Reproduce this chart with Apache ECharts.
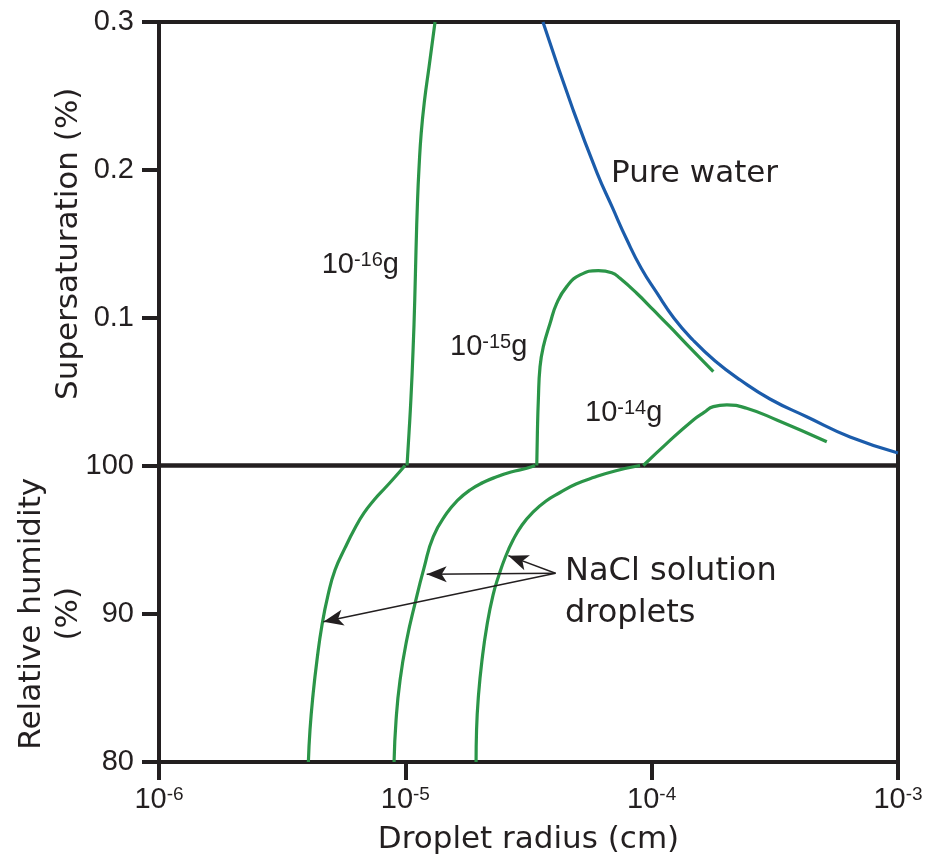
<!DOCTYPE html>
<html>
<head>
<meta charset="utf-8">
<script src="https://cdn.jsdelivr.net/npm/echarts@6/dist/echarts.min.js"></script>
<style>
  html, body { margin: 0; padding: 0; background: #fff; }
  #chart { width: 925px; height: 863px; }
</style>
</head>
<body>
<div id="chart"></div>
<script>
// droplet radius (cm) against supersaturation (%) above and relative humidity (%) below
const pureR = [3.62e-5, 4.8e-5, 6.0e-5, 6.91e-5, 7.94e-5, 9.06e-5, 1.05e-4, 1.23e-4, 1.47e-4, 1.81e-4, 2.29e-4, 3.02e-4, 4.28e-4, 6.39e-4, 1.0e-3];
const pureS = [0.3, 0.2405, 0.198, 0.1749, 0.1525, 0.1336, 0.1167, 0.0998, 0.0849, 0.0707, 0.0578, 0.045, 0.0328, 0.0193, 0.0085];

// 10^-16 g NaCl
const r16Up = [1.016e-5, 1.035e-5, 1.053e-5, 1.075e-5, 1.092e-5, 1.105e-5, 1.121e-5, 1.137e-5, 1.16e-5, 1.197e-5, 1.248e-5, 1.32e-5];
const s16Up = [0, 0.022, 0.0443, 0.0781, 0.112, 0.1458, 0.1796, 0.2019, 0.2249, 0.2472, 0.2696, 0.3];
const r16Low = [4.04e-6, 4.102e-6, 4.219e-6, 4.379e-6, 4.589e-6, 4.854e-6, 5.183e-6, 5.69e-6, 6.249e-6, 6.797e-6, 7.463e-6, 8.272e-6, 9.083e-6, 9.97e-6];
const rh16Low = [80, 82.16, 84.52, 86.88, 89.24, 91.26, 92.95, 94.44, 95.78, 96.8, 97.67, 98.48, 99.22, 100];

// 10^-15 g NaCl
const r15Up = [3.416e-5, 3.436e-5, 3.467e-5, 3.522e-5, 3.632e-5, 3.87e-5, 4.117e-5, 4.52e-5, 5.12e-5, 6.076e-5, 6.887e-5, 7.44e-5, 8.7e-5, 1.016e-4, 1.188e-4, 1.388e-4, 1.78e-4];
const s15Up = [0, 0.022, 0.0443, 0.0668, 0.0804, 0.0962, 0.1097, 0.121, 0.1289, 0.1318, 0.1304, 0.1266, 0.1165, 0.1052, 0.0937, 0.0819, 0.0635];
const r15Low = [9.0e-6, 9.17e-6, 9.52e-6, 1.013e-5, 1.095e-5, 1.191e-5, 1.299e-5, 1.473e-5, 1.628e-5, 1.831e-5, 2.067e-5, 2.35e-5, 2.686e-5, 3.111e-5, 3.36e-5];
const rh15Low = [80, 82.83, 85.53, 88.23, 90.7, 93.09, 95.2, 96.78, 97.64, 98.35, 98.85, 99.24, 99.56, 99.81, 100];

// 10^-14 g NaCl
const r14Up = [9.25e-5, 1.152e-4, 1.476e-4, 1.632e-4, 1.78e-4, 2.02e-4, 2.43e-4, 3.22e-4, 5.14e-4];
const s14Up = [0, 0.015, 0.0308, 0.0359, 0.0398, 0.041, 0.0387, 0.0308, 0.0161];
const r14Low = [1.937e-5, 1.946e-5, 1.982e-5, 2.048e-5, 2.146e-5, 2.27e-5, 2.4e-5, 2.539e-5, 2.737e-5, 2.977e-5, 3.3e-5, 3.726e-5, 4.246e-5, 4.932e-5, 5.891e-5, 7.101e-5, 8.972e-5];
const rh14Low = [80, 82.16, 84.52, 86.88, 89.24, 91.26, 92.61, 93.76, 94.97, 95.99, 96.86, 97.61, 98.18, 98.75, 99.22, 99.63, 100];

// arrows from the "NaCl solution droplets" note
const arrowFrom = [4.07e-5, 92.73];
const arrowToR = [4.65e-6, 1.221e-5, 2.62e-5];
const arrowToRH = [89.46, 92.66, 93.92];

const ink = '#231f20';
const green = '#2b9548';
const blue = '#1b5cab';
const numFont = '"Liberation Sans", Arial, sans-serif';
const wordFont = '"DejaVu Sans", sans-serif';

const zip = (xs, ys) => xs.map((x, i) => [x, ys[i]]);

const curve = (name, xs, ys, g, color) => ({
  type: 'line',
  name: name,
  xAxisIndex: g,
  yAxisIndex: g,
  data: zip(xs, ys),
  showSymbol: false,
  smooth: 0.5,
  silent: true,
  lineStyle: { color: color, width: 3.2 },
  itemStyle: { color: color },
});

const xAxisBase = (g, show) => ({
  type: 'log',
  logBase: 10,
  gridIndex: g,
  min: 1e-6,
  max: 1e-3,
  show: show,
  axisLine: { show: true, lineStyle: { color: ink, width: 4 } },
  axisTick: { show: true, inside: false, length: 18, lineStyle: { color: ink, width: 4 } },
  minorTick: { show: false },
  splitLine: { show: false },
  axisLabel: {
    margin: 23,
    formatter: (v) => '{m|10}{s|' + Math.round(Math.log10(v)) + '}',
    rich: {
      m: { fontFamily: numFont, fontSize: 29, lineHeight: 32, verticalAlign: 'top', color: ink },
      s: { fontFamily: numFont, fontSize: 19, lineHeight: 14, verticalAlign: 'top', color: ink },
    },
  },
  name: show ? 'Droplet radius (cm)' : '',
  nameLocation: 'middle',
  nameGap: 60,
  nameMoveOverlap: false,
  nameTextStyle: { fontFamily: wordFont, fontSize: 31, lineHeight: 36, color: ink },
});

const yAxisBase = (g, min, max, interval, name, gap) => ({
  type: 'value',
  gridIndex: g,
  min: min,
  max: max,
  interval: interval,
  axisLine: { show: true, lineStyle: { color: ink, width: 4 } },
  axisTick: { show: true, inside: false, length: 17, lineStyle: { color: ink, width: 4 } },
  splitLine: { show: false },
  axisLabel: {
    margin: 25,
    fontFamily: numFont,
    fontSize: 29,
    color: ink,
    formatter: (v) => (g === 0 && v === 0 ? '' : String(v)),
  },
  name: name,
  nameLocation: 'middle',
  nameRotate: 90,
  nameGap: gap,
  nameMoveOverlap: false,
  nameTextStyle: { fontFamily: wordFont, fontSize: 31, lineHeight: 37, color: ink },
});

const massLabel = (x, y, exp) => ({
  type: 'text',
  x: x,
  y: y,
  silent: true,
  style: {
    text: '{m|10}{s|' + exp + '}{m|g}',
    verticalAlign: 'top',
    align: 'left',
    rich: {
      m: { fontFamily: numFont, fontSize: 29, lineHeight: 32, verticalAlign: 'top', fill: ink, color: ink },
      s: { fontFamily: numFont, fontSize: 20, lineHeight: 19, verticalAlign: 'top', fill: ink, color: ink },
    },
  },
});

const arrows = arrowToR.map((r, i) => [
  { coord: arrowFrom, symbol: 'none' },
  { coord: [r, arrowToRH[i]], symbol: 'arrow' },
]);

const lowerWithArrows = curve('1e-14 low', r14Low, rh14Low, 1, green);
lowerWithArrows.markLine = {
  silent: true,
  animation: false,
  symbolSize: [12, 20],
  label: { show: false },
  lineStyle: { color: ink, width: 1.5, type: 'solid' },
  data: arrows,
};

const chart = echarts.init(document.getElementById('chart'));
chart.setOption({
  animation: false,
  backgroundColor: '#fff',
  grid: [
    { left: 159, width: 739, top: 22, height: 443.5, show: true, borderColor: ink, borderWidth: 4, outerBoundsMode: 'none', containLabel: false },
    { left: 159, width: 739, top: 465.5, height: 296.5, show: true, borderColor: ink, borderWidth: 4, outerBoundsMode: 'none', containLabel: false },
  ],
  xAxis: [xAxisBase(0, false), xAxisBase(1, true)],
  yAxis: [
    yAxisBase(0, 0, 0.3, 0.1, 'Supersaturation (%)', 72),
    yAxisBase(1, 80, 100, 10, 'Relative humidity\n(%)', 72),
  ],
  series: [
    curve('Pure water', pureR, pureS, 0, blue),
    curve('1e-16 up', r16Up, s16Up, 0, green),
    curve('1e-15 up', r15Up, s15Up, 0, green),
    curve('1e-14 up', r14Up, s14Up, 0, green),
    curve('1e-16 low', r16Low, rh16Low, 1, green),
    curve('1e-15 low', r15Low, rh15Low, 1, green),
    lowerWithArrows,
  ],
  graphic: [
    {
      type: 'text', x: 611, y: 173.5, silent: true,
      style: { text: 'Pure water', font: '31px ' + wordFont, fill: ink, verticalAlign: 'middle' },
    },
    {
      type: 'text', x: 565, y: 551, silent: true,
      style: { text: 'NaCl solution\ndroplets', font: '32px ' + wordFont, lineHeight: 42, fill: ink, verticalAlign: 'top' },
    },
    massLabel(321.7, 250, '-16'),
    massLabel(450, 332.3, '-15'),
    massLabel(585, 398.8, '-14'),
  ],
});
</script>
</body>
</html>
